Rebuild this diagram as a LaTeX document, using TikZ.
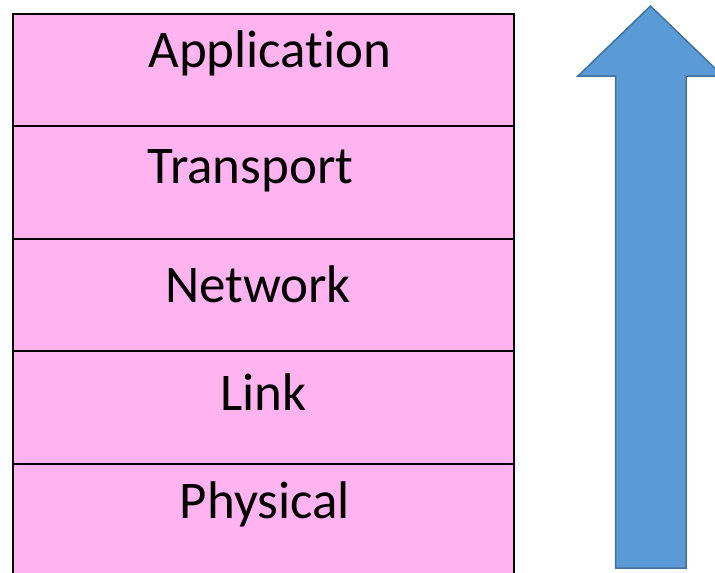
\documentclass[tikz,border=0pt]{standalone}
\usepackage{fontspec}
\setmainfont[Ligatures = NoCommon]{Carlito}
\definecolor{layerpink}{RGB}{255,180,240}
\definecolor{arrowblue}{RGB}{91,155,213}
\definecolor{arrowedge}{RGB}{65,113,156}
\tikzset {
    layer/.style = {rectangle, draw = black, fill = layerpink, line width = 2pt,
        minimum width = 501.5pt, minimum height = 112.5pt, inner sep = 0pt, anchor = north west},
    name text/.style = {anchor = base, inner sep = 0pt,
        font = \fontsize{53}{60}\selectfont},
    up arrow/.style = {fill = arrowblue, draw = arrowedge, line width = 1.5pt, line join = miter}
}
\begin{document}
\begin{tikzpicture}[x = 1pt, y = -1pt]
    \useasboundingbox (0, 0) rectangle (715, 573);
    \node (phy) [layer] at (11.5, 462.5) {};
    \node (lnk) [layer] at (11.5, 350) {};
    \node (net) [layer] at (11.5, 237.5) {};
    \node (tra) [layer] at (11.5, 125) {};
    \node (app) [layer] at (11.5, 12.5) {};
    \node (appt) [name text] at (270, 67) {Application};
    \node (trat) [name text] at (250.5, 183) {Transport};
    \node (nett) [name text] at (258, 302) {Network};
    \node (lnkt) [name text] at (263.5, 410) {Link};
    \node (phyt) [name text] at (265, 518) {Physical};
    % arrow on the right
    \draw [up arrow] (650.5, 6) -- (578, 76) -- (615.5, 76) -- (615.5, 568)
        -- (686, 568) -- (686, 76) -- (723, 76) -- cycle;
\end{tikzpicture}
\end{document}
